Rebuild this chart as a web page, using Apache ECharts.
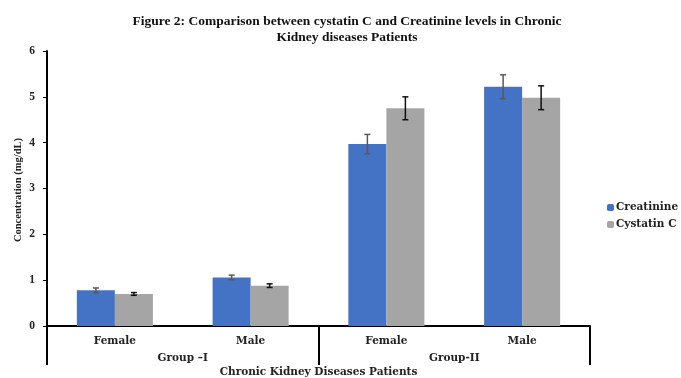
<!DOCTYPE html>
<html><head><meta charset="utf-8">
<script src="https://cdn.jsdelivr.net/npm/echarts@6/dist/echarts.min.js"></script>
<style>html,body{margin:0;padding:0;background:#fff}#c{width:681px;height:378px}</style>
</head><body><div id="c"></div>
<script>
const categories = ['Female', 'Male', 'Female', 'Male'];
const groups = ['Group \u2013I', 'Group-II'];
const creatinine = [0.78, 1.06, 3.97, 5.22];
const creatinineErr = [0.05, 0.05, 0.21, 0.26];
const cystatin = [0.70, 0.88, 4.75, 4.98];
const cystatinErr = [0.03, 0.04, 0.25, 0.26];
const yTicks = [0, 1, 2, 3, 4, 5, 6];
const yName = 'Concentration (mg/dL)';

const F = 'Liberation Serif, Times New Roman, serif';
const W = 'DejaVu Serif, serif';
const chart = echarts.init(document.getElementById('c'));

function errSeries(vals, errs, sign, color) {
  return {
    type: 'custom', xAxisIndex: 0, yAxisIndex: 0, silent: true, z: 10,
    data: vals.map((v, i) => [i, v, errs[i]]),
    renderItem: function (params, api) {
      const i = api.value(0), v = api.value(1), e = api.value(2);
      const band = api.size([1, 0])[0];
      const off = sign * band * 0.14;
      const top = api.coord([i, v + e]);
      const bot = api.coord([i, v - e]);
      const x = top[0] + off;
      const cap = 3;
      const st = { stroke: color, lineWidth: 1.5 };
      return { type: 'group', children: [
        { type: 'line', shape: { x1: x, y1: top[1], x2: x, y2: bot[1] }, style: st },
        { type: 'line', shape: { x1: x - cap, y1: top[1], x2: x + cap, y2: top[1] }, style: st },
        { type: 'line', shape: { x1: x - cap, y1: bot[1], x2: x + cap, y2: bot[1] }, style: st }
      ]};
    }
  };
}

chart.setOption({
  animation: false,
  title: {
    text: 'Figure 2: Comparison between cystatin C and Creatinine levels in Chronic\nKidney diseases Patients',
    left: 342, top: 9, textAlign: 'center',
    textStyle: { fontFamily: F, fontWeight: 'bold', fontSize: 13.5, color: '#111', lineHeight: 16 }
  },
  legend: {
    orient: 'vertical', left: 602, top: 197, itemWidth: 7, itemHeight: 7, itemGap: 6,
    data: ['Creatinine', 'Cystatin C'],
    textStyle: { fontFamily: W, fontWeight: 'bold', fontSize: 10.5, color: '#222', padding: [0, 0, 0, -3] }
  },
  graphic: [{
    type: 'text', x: 18, y: 190, rotation: Math.PI / 2,
    style: { text: yName, fontFamily: F, fontWeight: 'bold', fontSize: 10.5, fill: '#222',
      align: 'center', verticalAlign: 'middle' }
  }],
  grid: { left: 47, right: 91, top: 51, bottom: 52, outerBoundsMode: 'none' },
  xAxis: [
    {
      type: 'category', data: categories, position: 'bottom',
      axisLine: { lineStyle: { color: '#000', width: 2 } },
      axisTick: { show: false },
      axisLabel: { fontFamily: W, fontWeight: 'bold', fontSize: 10.5, color: '#222', margin: 10 },
      name: 'Chronic Kidney Diseases Patients', nameLocation: 'middle', nameGap: 41,
      nameTextStyle: { fontFamily: W, fontWeight: 'bold', fontSize: 10.5, color: '#222' }
    },
    {
      type: 'category', data: groups, position: 'bottom', offset: 0,
      axisLine: { show: false },
      axisTick: { show: true, length: 39, lineStyle: { color: '#000', width: 2 } },
      axisLabel: { fontFamily: W, fontWeight: 'bold', fontSize: 10.5, color: '#222', margin: 27 },
      splitLine: { show: false }
    }
  ],
  yAxis: {
    type: 'value', min: yTicks[0], max: yTicks[yTicks.length - 1], interval: 1,
    axisLine: { show: true, lineStyle: { color: '#000', width: 2 } },
    axisTick: { show: true, length: 4, lineStyle: { color: '#000' } },
    splitLine: { show: false },
    axisLabel: { fontFamily: F, fontWeight: 'bold', fontSize: 11.5, color: '#222', margin: 12 }
  },
  series: [
    { name: 'Creatinine', type: 'bar', data: creatinine, barWidth: '28%', barGap: '0%',
      itemStyle: { color: '#4472C4' } },
    { name: 'Cystatin C', type: 'bar', data: cystatin, barWidth: '28%', barGap: '0%',
      itemStyle: { color: '#A5A5A5' } },
    errSeries(creatinine, creatinineErr, -1, '#595959'),
    errSeries(cystatin, cystatinErr, 1, '#111')
  ]
});
</script></body></html>
